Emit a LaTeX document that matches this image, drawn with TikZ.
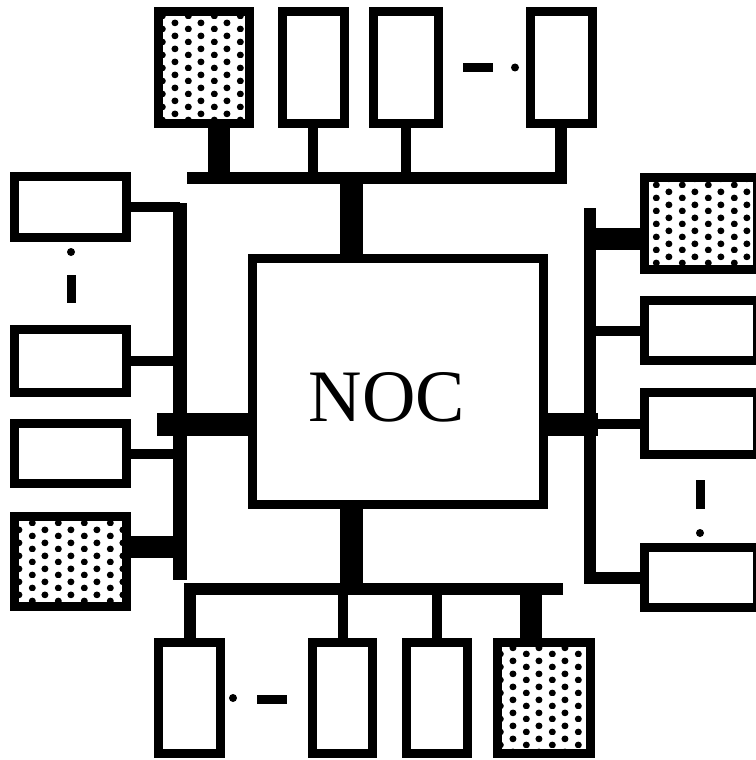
\documentclass[tikz,border=0pt]{standalone}
\usepackage{fontspec}
\newfontfamily\nocfont{Liberation Serif}
\usetikzlibrary{patterns.meta}

\tikzdeclarepattern{
  name=cpudots,
  type=uncolored,
  bottom left={(0pt,0pt)},
  top right={(26pt,13pt)},
  tile size={(26pt,13pt)},
  code={
    \fill (6.5pt,3.25pt) circle[radius=3.6pt];
    \fill (19.5pt,9.75pt) circle[radius=3.6pt];
  }
}

\begin{document}
\begin{tikzpicture}[x=1pt, y=-1pt,
  unit/.style={draw, line width=9pt, inner sep=0pt},
  tallbox/.style={unit, minimum width=62pt, minimum height=112pt},
  widebox/.style={unit, minimum width=113pt, minimum height=61pt},
  cpu/.style={pattern=cpudots},
  busline/.style={line width=12pt},
  link/.style={line width=10pt},
  fatlink/.style={line width=22pt},
  trunk/.style={line width=23pt},
  gap/.style={line width=9pt}]

\useasboundingbox (0,0) rectangle (755,760);

% the network on chip
\node[unit, minimum width=291pt, minimum height=246pt] (NOC) at (398,381.5) {};
\node[font=\nocfont\fontsize{74}{80}\selectfont] (noclabel) at (387,397) {NOC};

% top row
\node[tallbox, cpu, minimum width=91pt] (T1) at (204,67.5) {};
\node[tallbox] (T2) at (313,67.5) {};
\node[tallbox, minimum width=65pt] (T3) at (406,67.5) {};
\node[tallbox] (T4) at (561,67.5) {};

% left column
\node[widebox, minimum width=112pt] (L1) at (70.5,207) {};
\node[widebox, minimum width=112pt, minimum height=63pt] (L2) at (70.5,361) {};
\node[widebox, minimum width=112pt, minimum height=60pt] (L3) at (70.5,453.5) {};
\node[widebox, cpu, minimum width=112pt, minimum height=90pt] (L4) at (70.5,561.5) {};

% right column
\node[widebox, cpu, minimum height=92pt] (R1) at (701,223.5) {};
\node[widebox, minimum height=60pt] (R2) at (701,330.5) {};
\node[widebox, minimum height=62pt] (R3) at (701,423.5) {};
\node[widebox, minimum height=60pt] (R4) at (701,577.5) {};

% bottom row
\node[tallbox, minimum height=111pt] (B1) at (189.5,698) {};
\node[tallbox, minimum width=60pt, minimum height=111pt] (B2) at (342.5,698) {};
\node[tallbox, minimum width=61pt, minimum height=111pt] (B3) at (437,698) {};
\node[tallbox, cpu, minimum width=93pt, minimum height=111pt] (B4) at (544,698) {};

\coordinate (tbus) at (187,177.5);
\coordinate (lbtop) at (179.5,203);
\coordinate (lbbot) at (179.5,580);
\coordinate (ltrunk) at (157,424.5);
\coordinate (rbtop) at (590,208);
\coordinate (rtrunk) at (598,424.5);
\coordinate (bbus) at (563,589);

% top bus
\draw[busline] (T4.south) |- (tbus);
\draw[fatlink] ([xshift=15pt]T1.south) -- ([xshift=15pt]T1.south |- tbus);
\draw[link] (T2.south) -- (T2.south |- tbus);
\draw[link] (T3.south) -- (T3.south |- tbus);
\draw[trunk] ([xshift=-46.5pt]NOC.north) -- ([xshift=-46.5pt]NOC.north |- tbus);

% left bus
\draw[busline, line width=14pt] (lbtop) -- (lbbot);
\draw[link] (L1.east) -- (L1.east -| lbtop);
\draw[link] (L2.east) -- (L2.east -| lbtop);
\draw[link] (L3.east) -- (L3.east -| lbtop);
\draw[fatlink] ([yshift=14.5pt]L4.east) -- ([yshift=14.5pt]L4.east -| lbtop);
\draw[trunk] (ltrunk) -- (ltrunk -| NOC.west);

% right bus
\draw[busline] (rbtop) |- (R4.west);
\draw[fatlink] ([yshift=-15pt]R1.west) -- ([yshift=-15pt]R1.west -| rbtop);
\draw[link] (R2.west) -- (R2.west -| rbtop);
\draw[link] (R3.west) -- (R3.west -| rbtop);
\draw[trunk] (NOC.east |- rtrunk) -- (rtrunk);

% bottom bus
\draw[busline] (bbus) -| (B1.north);
\draw[link] (B2.north) -- (B2.north |- bbus);
\draw[link] (B3.north) -- (B3.north |- bbus);
\draw[fatlink] ([xshift=-13pt]B4.north) -- ([xshift=-13pt]B4.north |- bbus);
\draw[trunk] ([xshift=-46.5pt]NOC.south) -- ([xshift=-46.5pt]NOC.south |- bbus);

% ellipses
\draw[gap] (463,67.5) -- (493,67.5);
\fill (515,67.5) circle (4);
\fill (71,252) circle (4);
\draw[gap] (71,275) -- (71,303);
\draw[gap] (700,480) -- (700,509);
\fill (700,533) circle (4);
\fill (233,698) circle (4);
\draw[gap] (257,699) -- (287,699);

\end{tikzpicture}
\end{document}
